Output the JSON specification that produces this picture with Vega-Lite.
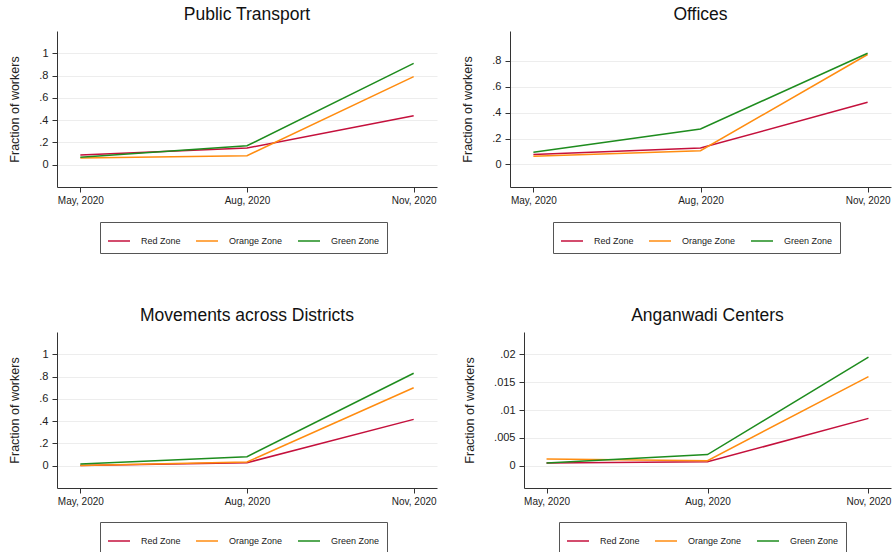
{
  "$schema": "https://vega.github.io/schema/vega-lite/v6.json",
  "background": "white",
  "padding": {"left": 8, "top": 5, "right": 5, "bottom": 5},
  "data": {
    "values": [
      {"panel": "Public Transport", "zone": "Red Zone", "month": "May, 2020", "value": 0.087},
      {"panel": "Public Transport", "zone": "Red Zone", "month": "Aug, 2020", "value": 0.15},
      {"panel": "Public Transport", "zone": "Red Zone", "month": "Nov, 2020", "value": 0.44},
      {"panel": "Public Transport", "zone": "Orange Zone", "month": "May, 2020", "value": 0.06},
      {"panel": "Public Transport", "zone": "Orange Zone", "month": "Aug, 2020", "value": 0.081},
      {"panel": "Public Transport", "zone": "Orange Zone", "month": "Nov, 2020", "value": 0.79},
      {"panel": "Public Transport", "zone": "Green Zone", "month": "May, 2020", "value": 0.066},
      {"panel": "Public Transport", "zone": "Green Zone", "month": "Aug, 2020", "value": 0.17},
      {"panel": "Public Transport", "zone": "Green Zone", "month": "Nov, 2020", "value": 0.91},
      {"panel": "Offices", "zone": "Red Zone", "month": "May, 2020", "value": 0.077},
      {"panel": "Offices", "zone": "Red Zone", "month": "Aug, 2020", "value": 0.126},
      {"panel": "Offices", "zone": "Red Zone", "month": "Nov, 2020", "value": 0.48},
      {"panel": "Offices", "zone": "Orange Zone", "month": "May, 2020", "value": 0.062},
      {"panel": "Offices", "zone": "Orange Zone", "month": "Aug, 2020", "value": 0.106},
      {"panel": "Offices", "zone": "Orange Zone", "month": "Nov, 2020", "value": 0.85},
      {"panel": "Offices", "zone": "Green Zone", "month": "May, 2020", "value": 0.093},
      {"panel": "Offices", "zone": "Green Zone", "month": "Aug, 2020", "value": 0.274},
      {"panel": "Offices", "zone": "Green Zone", "month": "Nov, 2020", "value": 0.86},
      {"panel": "Movements across Districts", "zone": "Red Zone", "month": "May, 2020", "value": 0.003},
      {"panel": "Movements across Districts", "zone": "Red Zone", "month": "Aug, 2020", "value": 0.027},
      {"panel": "Movements across Districts", "zone": "Red Zone", "month": "Nov, 2020", "value": 0.416},
      {"panel": "Movements across Districts", "zone": "Orange Zone", "month": "May, 2020", "value": 0.003},
      {"panel": "Movements across Districts", "zone": "Orange Zone", "month": "Aug, 2020", "value": 0.033},
      {"panel": "Movements across Districts", "zone": "Orange Zone", "month": "Nov, 2020", "value": 0.70},
      {"panel": "Movements across Districts", "zone": "Green Zone", "month": "May, 2020", "value": 0.015},
      {"panel": "Movements across Districts", "zone": "Green Zone", "month": "Aug, 2020", "value": 0.081},
      {"panel": "Movements across Districts", "zone": "Green Zone", "month": "Nov, 2020", "value": 0.83},
      {"panel": "Anganwadi Centers", "zone": "Red Zone", "month": "May, 2020", "value": 0.0005},
      {"panel": "Anganwadi Centers", "zone": "Red Zone", "month": "Aug, 2020", "value": 0.0007},
      {"panel": "Anganwadi Centers", "zone": "Red Zone", "month": "Nov, 2020", "value": 0.0085},
      {"panel": "Anganwadi Centers", "zone": "Orange Zone", "month": "May, 2020", "value": 0.0012},
      {"panel": "Anganwadi Centers", "zone": "Orange Zone", "month": "Aug, 2020", "value": 0.0009},
      {"panel": "Anganwadi Centers", "zone": "Orange Zone", "month": "Nov, 2020", "value": 0.016},
      {"panel": "Anganwadi Centers", "zone": "Green Zone", "month": "May, 2020", "value": 0.0005},
      {"panel": "Anganwadi Centers", "zone": "Green Zone", "month": "Aug, 2020", "value": 0.002},
      {"panel": "Anganwadi Centers", "zone": "Green Zone", "month": "Nov, 2020", "value": 0.0195}
    ]
  },
  "config": {
    "font": "Liberation Sans",
    "view": {"stroke": null},
    "title": {"fontSize": 17.5, "fontWeight": "normal", "color": "#111", "frame": "group", "anchor": "middle", "offset": 8},
    "axis": {
      "domainColor": "#333", "tickColor": "#333", "tickSize": 5, "labelColor": "#222",
      "titleColor": "#222", "titleFontWeight": "normal", "gridColor": "#ededed", "gridWidth": 1
    },
    "axisX": {"grid": false, "labelAngle": 0, "labelFontSize": 10, "labelPadding": 3, "title": null},
    "axisY": {"grid": true, "labelFontSize": 11, "labelPadding": 4, "titleFontSize": 12.5, "titlePadding": 17},
    "legend": {
      "orient": "none", "direction": "horizontal", "columns": 3, "title": null,
      "strokeColor": "#555", "padding": 7, "symbolType": "stroke", "symbolSize": 484,
      "symbolStrokeWidth": 1.5, "labelFontSize": 9, "labelColor": "#222", "labelOffset": 10,
      "columnPadding": 12
    },
    "line": {"strokeWidth": 1.5}
  },
  "resolve": {"legend": {"color": "independent"}},
  "spacing": 52,
  "vconcat": [
    {
      "bounds": "flush",
      "spacing": 73,
      "resolve": {"legend": {"color": "independent"}},
      "hconcat": [
        {
          "title": "Public Transport",
          "width": 380, "height": 156,
          "transform": [{"filter": "datum.panel == 'Public Transport'"}],
          "mark": "line",
          "encoding": {
            "x": {"field": "month", "type": "ordinal", "sort": ["May, 2020", "Aug, 2020", "Nov, 2020"], "scale": {"padding": 0.14}},
            "y": {"field": "value", "type": "quantitative", "scale": {"domain": [-0.2, 1.2], "nice": false, "zero": false},
              "axis": {"title": "Fraction of workers", "values": [0, 0.2, 0.4, 0.6, 0.8, 1], "labelExpr": "datum.value == 0 ? '0' : replace(format(datum.value, '~g'), '0.', '.')"}},
            "color": {"field": "zone", "type": "nominal",
              "scale": {"domain": ["Red Zone", "Orange Zone", "Green Zone"], "range": ["#c4103c", "#ff8c10", "#1e8c1e"]},
              "legend": {"legendX": 43, "legendY": 191}}
          }
        },
        {
          "title": "Offices",
          "width": 381, "height": 156,
          "transform": [{"filter": "datum.panel == 'Offices'"}],
          "mark": "line",
          "encoding": {
            "x": {"field": "month", "type": "ordinal", "sort": ["May, 2020", "Aug, 2020", "Nov, 2020"], "scale": {"padding": 0.14}},
            "y": {"field": "value", "type": "quantitative", "scale": {"domain": [-0.175, 1.032], "nice": false, "zero": false},
              "axis": {"title": "Fraction of workers", "values": [0, 0.2, 0.4, 0.6, 0.8], "labelExpr": "datum.value == 0 ? '0' : replace(format(datum.value, '~g'), '0.', '.')"}},
            "color": {"field": "zone", "type": "nominal",
              "scale": {"domain": ["Red Zone", "Orange Zone", "Green Zone"], "range": ["#c4103c", "#ff8c10", "#1e8c1e"]},
              "legend": {"legendX": 43, "legendY": 191}}
          }
        }
      ]
    },
    {
      "bounds": "flush",
      "spacing": 87,
      "resolve": {"legend": {"color": "independent"}},
      "hconcat": [
        {
          "title": "Movements across Districts",
          "width": 380, "height": 156,
          "transform": [{"filter": "datum.panel == 'Movements across Districts'"}],
          "mark": "line",
          "encoding": {
            "x": {"field": "month", "type": "ordinal", "sort": ["May, 2020", "Aug, 2020", "Nov, 2020"], "scale": {"padding": 0.14}},
            "y": {"field": "value", "type": "quantitative", "scale": {"domain": [-0.2, 1.2], "nice": false, "zero": false},
              "axis": {"title": "Fraction of workers", "values": [0, 0.2, 0.4, 0.6, 0.8, 1], "labelExpr": "datum.value == 0 ? '0' : replace(format(datum.value, '~g'), '0.', '.')"}},
            "color": {"field": "zone", "type": "nominal",
              "scale": {"domain": ["Red Zone", "Orange Zone", "Green Zone"], "range": ["#c4103c", "#ff8c10", "#1e8c1e"]},
              "legend": {"legendX": 43, "legendY": 190}}
          }
        },
        {
          "title": "Anganwadi Centers",
          "width": 367, "height": 156,
          "transform": [{"filter": "datum.panel == 'Anganwadi Centers'"}],
          "mark": "line",
          "encoding": {
            "x": {"field": "month", "type": "ordinal", "sort": ["May, 2020", "Aug, 2020", "Nov, 2020"], "scale": {"padding": 0.14}},
            "y": {"field": "value", "type": "quantitative", "scale": {"domain": [-0.004, 0.024], "nice": false, "zero": false},
              "axis": {"title": "Fraction of workers", "values": [0, 0.005, 0.01, 0.015, 0.02], "labelExpr": "datum.value == 0 ? '0' : replace(format(datum.value, '~g'), '0.', '.')"}},
            "color": {"field": "zone", "type": "nominal",
              "scale": {"domain": ["Red Zone", "Orange Zone", "Green Zone"], "range": ["#c4103c", "#ff8c10", "#1e8c1e"]},
              "legend": {"legendX": 35, "legendY": 190}}
          }
        }
      ]
    }
  ]
}
